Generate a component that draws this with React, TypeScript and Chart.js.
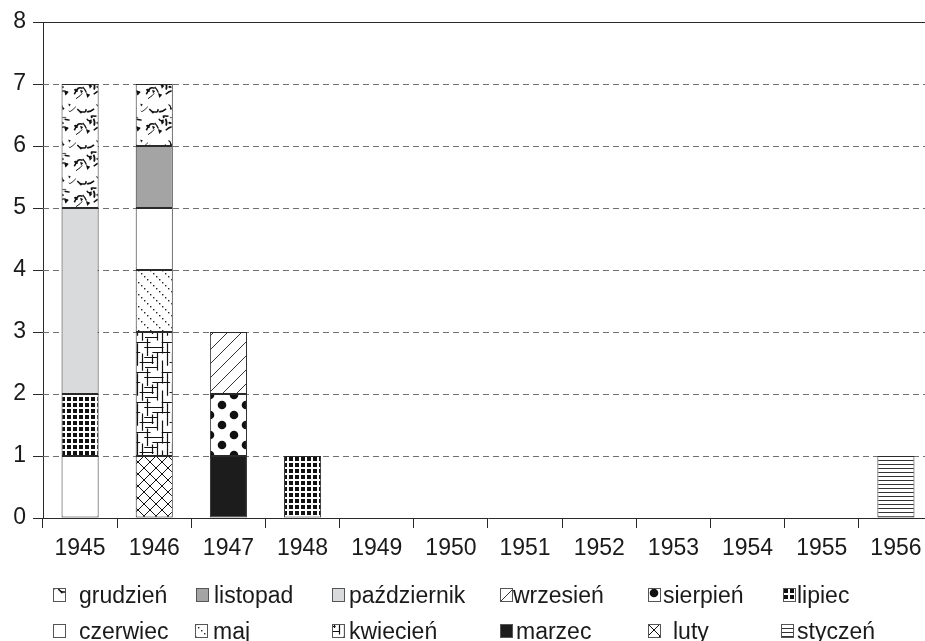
import React, { useEffect, useRef } from 'react';
import { Chart, registerables } from 'chart.js';

Chart.register(...registerables);

// ---- data ----
const years = ['1945', '1946', '1947', '1948', '1949', '1950', '1951', '1952', '1953', '1954', '1955', '1956'];
const monthNames = ['styczeń', 'luty', 'marzec', 'kwiecień', 'maj', 'czerwiec', 'lipiec', 'sierpień', 'wrzesień', 'październik', 'listopad', 'grudzień'];
const styczen = [0, 0, 0, 0, 0, 0, 0, 0, 0, 0, 0, 1];
const luty = [0, 1, 0, 0, 0, 0, 0, 0, 0, 0, 0, 0];
const marzec = [0, 0, 1, 0, 0, 0, 0, 0, 0, 0, 0, 0];
const kwiecien = [0, 2, 0, 0, 0, 0, 0, 0, 0, 0, 0, 0];
const maj = [0, 1, 0, 0, 0, 0, 0, 0, 0, 0, 0, 0];
const czerwiec = [1, 1, 0, 0, 0, 0, 0, 0, 0, 0, 0, 0];
const lipiec = [1, 0, 0, 1, 0, 0, 0, 0, 0, 0, 0, 0];
const sierpien = [0, 0, 1, 0, 0, 0, 0, 0, 0, 0, 0, 0];
const wrzesien = [0, 0, 1, 0, 0, 0, 0, 0, 0, 0, 0, 0];
const pazdziernik = [3, 0, 0, 0, 0, 0, 0, 0, 0, 0, 0, 0];
const listopad = [0, 1, 0, 0, 0, 0, 0, 0, 0, 0, 0, 0];
const grudzien = [2, 1, 0, 0, 0, 0, 0, 0, 0, 0, 0, 0];
const yTickValues = [0, 1, 2, 3, 4, 5, 6, 7, 8];
const legendRow1 = ['grudzień', 'listopad', 'październik', 'wrzesień', 'sierpień', 'lipiec'];
const legendRow2 = ['czerwiec', 'maj', 'kwiecień', 'marzec', 'luty', 'styczeń'];

const FONT = '"Liberation Sans", Arial, Helvetica, sans-serif';

function tile(w: number, h: number, draw: (c: CanvasRenderingContext2D) => void) {
  const cv = document.createElement('canvas');
  cv.width = w;
  cv.height = h;
  const c = cv.getContext('2d')!;
  c.fillStyle = '#ffffff';
  c.fillRect(0, 0, w, h);
  draw(c);
  return cv;
}

function lcg(seed: number) {
  let s = seed;
  return () => {
    s = (s * 1103515245 + 12345) % 2147483648;
    return s / 2147483648;
  };
}

function makeFills(ctx: CanvasRenderingContext2D): (string | CanvasPattern)[] {
  const pat = (cv: HTMLCanvasElement) => ctx.createPattern(cv, 'repeat') as CanvasPattern;
  // styczeń: horizontal lines
  const sty = pat(tile(4, 4, (c) => { c.fillStyle = '#333'; c.fillRect(0, 0, 4, 1); }));
  // luty: diagonal crosshatch
  const lut = pat(tile(12, 12, (c) => {
    c.strokeStyle = '#111'; c.lineWidth = 1;
    c.beginPath();
    c.moveTo(0, 0); c.lineTo(12, 12);
    c.moveTo(12, 0); c.lineTo(0, 12);
    c.stroke();
  }));
  // kwiecień: irregular maze grid
  const kwi = pat(tile(30, 30, (c) => {
    const r = lcg(11);
    c.strokeStyle = '#111'; c.lineWidth = 1.2;
    c.beginPath();
    for (let k = 0; k < 6; k++) {
      const y = 2.5 + k * 5;
      const x0 = r() * 30;
      const len = 8 + r() * 16;
      for (const o of [-30, 0]) { c.moveTo(x0 + o, y); c.lineTo(x0 + o + len, y); }
    }
    for (let k = 0; k < 6; k++) {
      const x = 2.5 + k * 5;
      const y0 = r() * 30;
      const len = 8 + r() * 16;
      for (const o of [-30, 0]) { c.moveTo(x, y0 + o); c.lineTo(x, y0 + o + len); }
    }
    c.stroke();
  }));
  // maj: dotted diagonal lines
  const maj_ = pat(tile(12, 12, (c) => {
    c.fillStyle = '#222';
    for (let i = 0; i < 4; i++) c.fillRect(i * 3, i * 3, 1.4, 1.4);
  }));
  // lipiec: black squares grid
  const lip = pat(tile(6, 6, (c) => { c.fillStyle = '#111'; c.fillRect(1, 1, 4, 4); }));
  // sierpień: large staggered dots
  const sie = pat(tile(24, 20, (c) => {
    c.fillStyle = '#111';
    const dots = [[6, 5], [18, 15], [-6, 15], [30, 5], [6, 25], [18, -5]];
    dots.forEach((d) => { c.beginPath(); c.arc(d[0], d[1], 4.3, 0, Math.PI * 2); c.fill(); });
  }));
  // wrzesień: diagonal lines /
  const wrz = pat(tile(14, 14, (c) => {
    c.strokeStyle = '#333'; c.lineWidth = 1;
    c.beginPath();
    c.moveTo(0, 14); c.lineTo(14, 0);
    c.moveTo(-1, 1); c.lineTo(1, -1);
    c.moveTo(13, 15); c.lineTo(15, 13);
    c.stroke();
  }));
  // grudzień: marble squiggles
  const gru = pat(tile(36, 36, (c) => {
    const r = lcg(7);
    c.strokeStyle = '#111';
    c.fillStyle = '#111';
    for (let k = 0; k < 16; k++) {
      const x = r() * 36, y = r() * 36;
      const dx = (r() - 0.5) * 14, dy = (r() - 0.5) * 14;
      const cx = (r() - 0.5) * 10, cy = (r() - 0.5) * 10;
      c.lineWidth = 0.8 + r() * 1.0;
      for (const ox of [-36, 0, 36]) for (const oy of [-36, 0, 36]) {
        c.beginPath();
        c.moveTo(x + ox, y + oy);
        c.quadraticCurveTo(x + ox + dx / 2 + cx, y + oy + dy / 2 + cy, x + ox + dx, y + oy + dy);
        c.stroke();
      }
    }
    for (let k = 0; k < 7; k++) {
      const x = r() * 36, y = r() * 36;
      const s = 2 + r() * 2.5;
      for (const ox of [-36, 0, 36]) for (const oy of [-36, 0, 36]) {
        c.beginPath();
        c.moveTo(x + ox, y + oy);
        c.lineTo(x + ox + s, y + oy + s * 0.4);
        c.lineTo(x + ox + s * 0.3, y + oy + s * 1.2);
        c.closePath();
        c.fill();
      }
    }
  }));
  return [sty, lut, '#1c1c1c', kwi, maj_, '#ffffff', lip, sie, wrz, '#d9dadb', '#a4a4a4', gru];
}

export default function App() {
  const ref = useRef<HTMLCanvasElement>(null);

  useEffect(() => {
    const canvas = ref.current!;
    const ctx = canvas.getContext('2d')!;
    const fills = makeFills(ctx);
    const seriesValues = [styczen, luty, marzec, kwiecien, maj, czerwiec, lipiec, sierpien, wrzesien, pazdziernik, listopad, grudzien];

    const datasets = monthNames.map((m, i) => ({
      label: m,
      data: seriesValues[i].map((v) => (v === 0 ? null : v)),
      backgroundColor: fills[i] as any,
      borderColor: '#2a2a2a',
      borderWidth: 1,
      borderSkipped: false as const,
      barPercentage: 0.5,
      categoryPercentage: 1,
    }));

    const gridPlugin = {
      id: 'dashGrid',
      beforeDatasetsDraw(chart: any) {
        const { ctx: c, chartArea, scales } = chart;
        c.save();
        yTickValues.forEach((v) => {
          if (v === 0) return;
          const y = Math.round(scales.y.getPixelForValue(v)) + 0.5;
          c.beginPath();
          if (v === 8) {
            c.setLineDash([]);
            c.strokeStyle = '#2a2a2a';
          } else {
            c.setLineDash([6, 4]);
            c.strokeStyle = '#707070';
          }
          c.lineWidth = 1;
          c.moveTo(chartArea.left, y);
          c.lineTo(chartArea.right, y);
          c.stroke();
        });
        c.restore();
      },
    };

    const legendPlugin = {
      id: 'gridLegend',
      afterDraw(chart: any) {
        const c = chart.ctx as CanvasRenderingContext2D;
        const rows = [
          { names: legendRow1, baseline: 603, boxX: [53, 196, 332, 500, 648, 783], textX: [79, 214, 349, 513, 663, 797] },
          { names: legendRow2, baseline: 639, boxX: [53, 195, 332, 500, 648, 781], textX: [79, 213, 349, 516, 673, 797] },
        ];
        c.save();
        c.font = `23px ${FONT}`;
        c.textBaseline = 'alphabetic';
        c.textAlign = 'left';
        rows.forEach((row) => {
          row.names.forEach((name, j) => {
            const idx = monthNames.indexOf(name);
            const bx = row.boxX[j];
            const by = row.baseline - 15;
            c.save();
            c.translate(bx, by);
            c.fillStyle = fills[idx] as any;
            c.fillRect(0, 0, 13, 14);
            c.strokeStyle = '#555';
            c.lineWidth = 1;
            c.strokeRect(0.5, 0.5, 12, 13);
            c.restore();
            c.fillStyle = '#1a1a1a';
            c.fillText(name, row.textX[j], row.baseline);
          });
        });
        c.restore();
      },
    };

    const chart = new Chart(ctx, {
      type: 'bar',
      data: { labels: years, datasets },
      options: {
        animation: false,
        responsive: false,
        devicePixelRatio: 1,
        layout: { padding: { top: 22, right: 27, bottom: 79, left: 0 } },
        plugins: { legend: { display: false }, tooltip: { enabled: false } },
        scales: {
          x: {
            stacked: true,
            grid: { offset: true, drawOnChartArea: false, drawTicks: true, tickLength: 10, tickColor: '#2a2a2a', tickWidth: 1 },
            border: { display: true, color: '#2a2a2a', width: 1 },
            ticks: { color: '#1a1a1a', font: { family: FONT, size: 23 }, padding: 7, autoSkip: false, maxRotation: 0 },
            afterFit: (s: any) => { s.height = 44; },
          },
          y: {
            stacked: true,
            min: 0,
            max: 8,
            grid: { drawOnChartArea: false, drawTicks: true, tickLength: 10, tickColor: '#2a2a2a', tickWidth: 1 },
            border: { display: true, color: '#2a2a2a', width: 1 },
            ticks: {
              stepSize: 1,
              color: '#1a1a1a',
              font: { family: FONT, size: 23 },
              padding: 7,
              callback: (v: any) => (yTickValues.includes(Number(v)) ? String(v) : ''),
            },
            afterFit: (s: any) => { s.width = 43; },
          },
        },
      },
      plugins: [gridPlugin, legendPlugin],
    });
    return () => chart.destroy();
  }, []);

  return (
    <div style={{ position: 'absolute', left: 0, top: 0, width: 925, height: 641, overflow: 'hidden', background: '#fff' }}>
      <canvas ref={ref} width={960} height={641} style={{ display: 'block', width: 960, height: 641 }} />
    </div>
  );
}
